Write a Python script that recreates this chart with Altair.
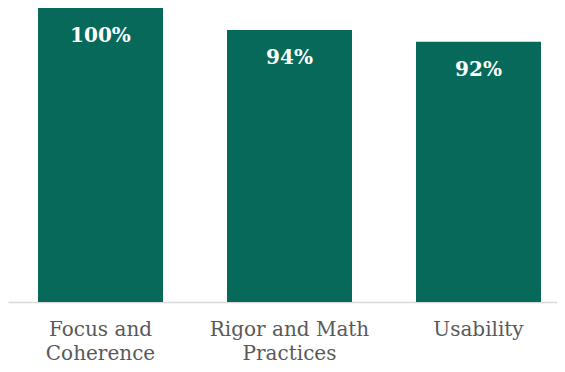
import altair as alt
import pandas as pd

categories = ["Focus and Coherence", "Rigor and Math Practices", "Usability"]
label_lines = [["Focus and", "Coherence"], ["Rigor and Math", "Practices"], ["Usability"]]
values = [100, 92.5, 88.5]
value_labels = ["100%", "94%", "92%"]

df = pd.DataFrame({"category": categories, "value": values, "label": value_labels})

expr = "".join(
    f"datum.label == '{c}' ? {lines!r} : " for c, lines in zip(categories, label_lines)
) + "datum.label"

GREEN = "#07695A"
FONT = "DejaVu Serif"

x = alt.X(
    "category:N",
    sort=categories,
    title=None,
    scale=alt.Scale(paddingInner=0.3386, paddingOuter=0.1217, align=0.652),
    axis=alt.Axis(
        labelAngle=0,
        labelFont=FONT,
        labelFontSize=20,
        labelColor="#595959",
        labelPadding=17,
        labelLineHeight=24,
        labelLimit=400,
        labelExpr=expr,
        ticks=False,
        tickSize=0,
        domainColor="#D9D9D9",
        domainWidth=1.5,
        grid=False,
    ),
)
y = alt.Y("value:Q", title=None, scale=alt.Scale(domain=[0, 100]), axis=None)

bars = alt.Chart(df).mark_bar(color=GREEN).encode(x=x, y=y)
text = alt.Chart(df).mark_text(
    baseline="alphabetic", dy=34, font=FONT, fontSize=20, fontWeight="bold", color="white"
).encode(x=x, y=y, text="label:N")

chart = (
    alt.layer(bars, text)
    .properties(
        width=549,
        height=294,
        padding={"left": 0, "right": 0, "top": 0, "bottom": 62},
        autosize=alt.AutoSizeParams(type="none"),
    )
    .configure_view(stroke=None)
)

chart.save("out.html", embed_options={"renderer": "svg", "actions": False})
